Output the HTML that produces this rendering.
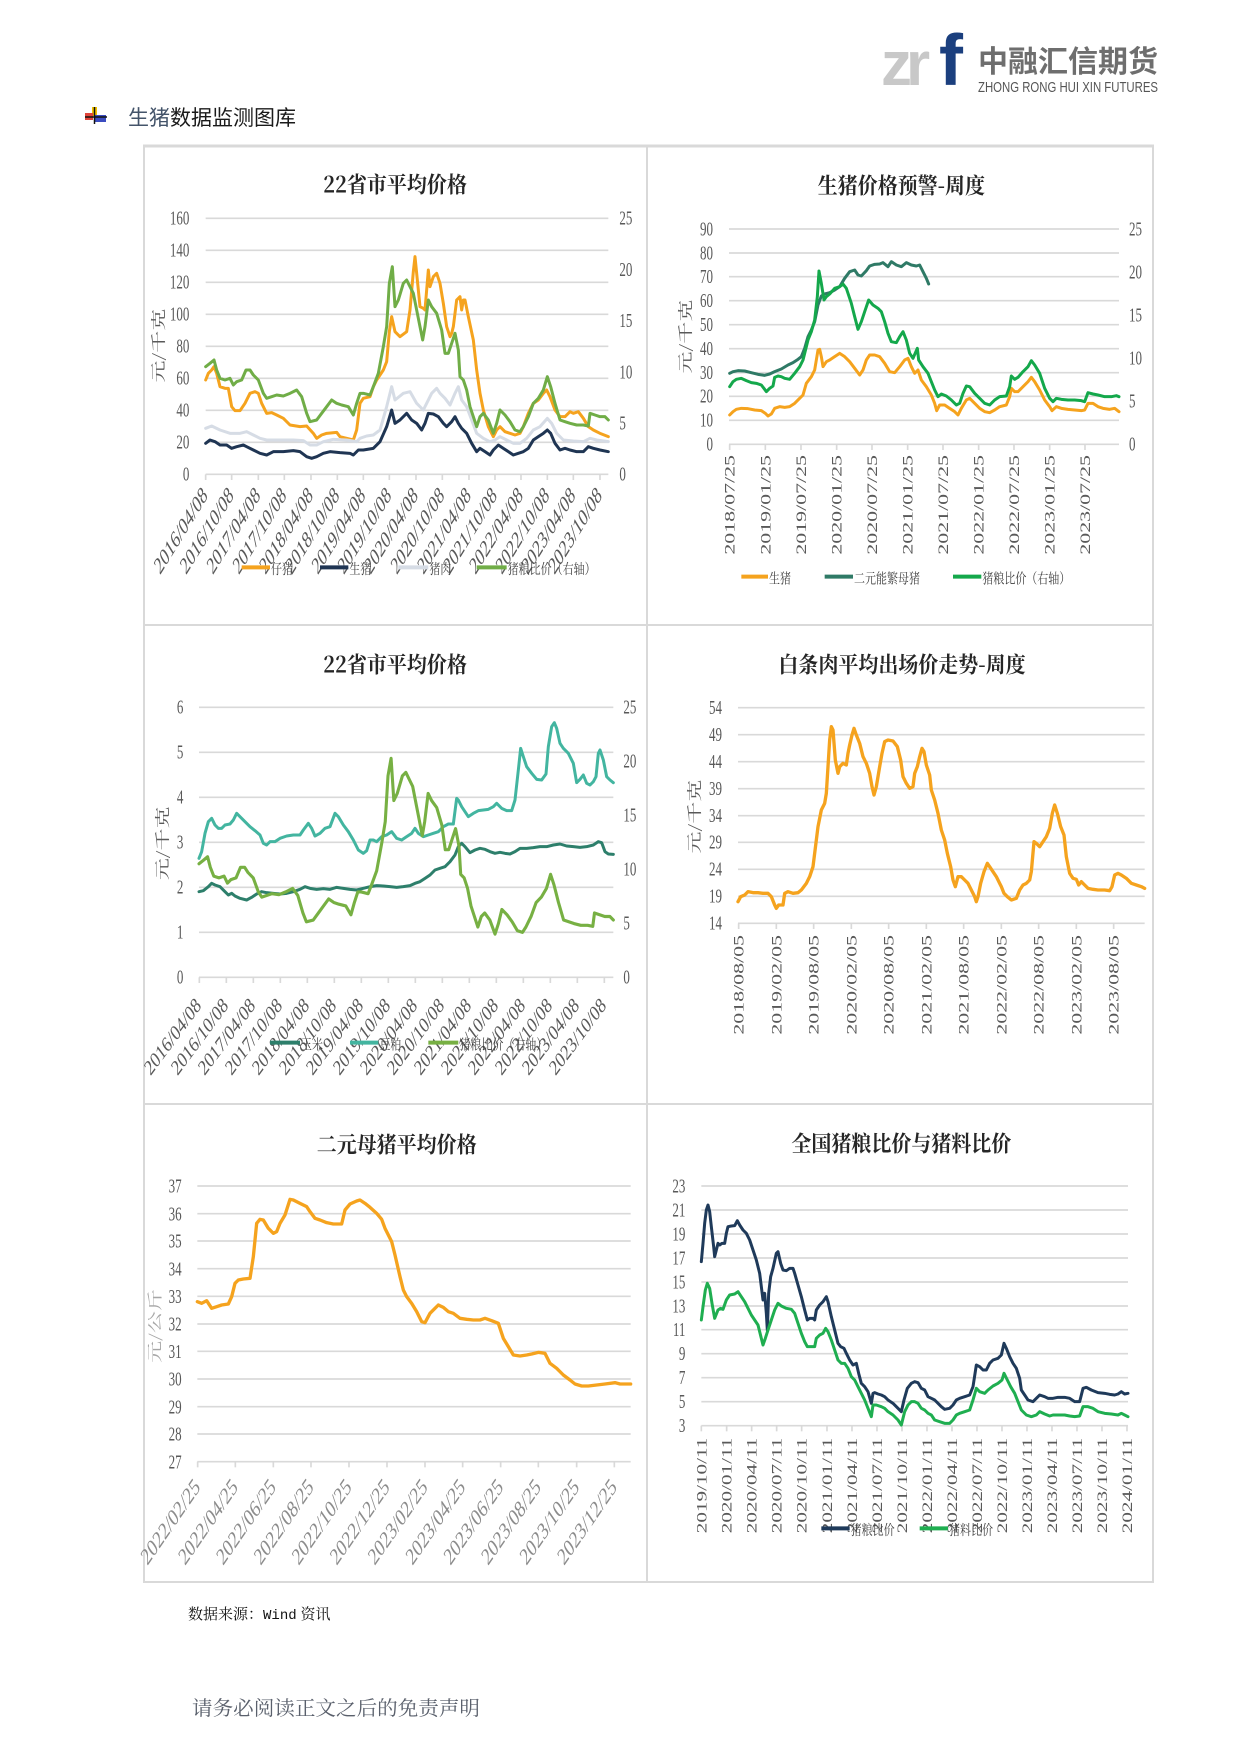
<!DOCTYPE html>
<html><head><meta charset="utf-8">
<style>
html,body{margin:0;padding:0;background:#fff;}
body{width:1241px;height:1755px;position:relative;overflow:hidden;}
svg{position:absolute;left:0;top:0;}
.t{font-family:"Liberation Serif","Noto Serif CJK SC",serif;fill:#595959;}
.ttl{font-family:"Noto Serif CJK SC","Liberation Serif",serif;font-weight:700;fill:#262626;font-size:60px;text-anchor:middle;}
.yl{font-size:39px;}
.e{text-anchor:end;}
.lg{font-family:"Noto Serif CJK SC","Liberation Serif",serif;font-size:33px;fill:#404040;}
.yt{font-family:"Noto Serif CJK SC","Liberation Serif",serif;font-size:44px;fill:#595959;text-anchor:middle;}
.grid line{stroke:#d9d9d9;stroke-width:5;}
.ser{fill:none;stroke-linejoin:round;stroke-linecap:round;}
</style></head>
<body>
<svg width="1241" height="1755" viewBox="0 0 1241 1755" xmlns="http://www.w3.org/2000/svg">
<!-- Logo -->
<text x="881" y="85" font-family="Liberation Sans,sans-serif" font-weight="700" font-size="62" fill="#c8c8c8" letter-spacing="-6">zr</text>
<text x="939" y="85" font-family="Liberation Sans,sans-serif" font-weight="700" font-size="72" fill="#1b3f7e">f</text>
<text x="978" y="72" font-family="Noto Sans CJK SC,sans-serif" font-weight="700" font-size="30" fill="#6e6e6e" textLength="180" lengthAdjust="spacingAndGlyphs">中融汇信期货</text>
<text x="978" y="92" font-family="Liberation Sans,sans-serif" font-size="15" fill="#555" textLength="180" lengthAdjust="spacingAndGlyphs">ZHONG RONG HUI XIN FUTURES</text>
<!-- section title -->
<rect x="92" y="107" width="5" height="9" fill="#f2c200"/>
<rect x="85" y="113" width="8" height="7" fill="#e0453a"/>
<rect x="95" y="115" width="11" height="7" fill="#3b4cc0"/>
<line x1="94.5" y1="107" x2="94.5" y2="124" stroke="#111" stroke-width="1.5"/>
<line x1="85" y1="117" x2="107" y2="117" stroke="#111" stroke-width="1.5"/>
<text x="128" y="125" font-family="Noto Sans CJK SC,sans-serif" font-size="21" fill="#1a1a1a"><tspan fill="#44546a">生猪</tspan>数据监测图库</text>
<!-- frame -->
<rect x="144" y="146" width="1009" height="1436" fill="none" stroke="#d9d9d9" stroke-width="2"/>
<line x1="143" y1="146" x2="1154" y2="146" stroke="#d9d9d9" stroke-width="3"/>
<line x1="647" y1="145" x2="647" y2="1583" stroke="#d9d9d9" stroke-width="2"/>
<line x1="143" y1="625" x2="1154" y2="625" stroke="#d9d9d9" stroke-width="2"/>
<line x1="143" y1="1104" x2="1154" y2="1104" stroke="#d9d9d9" stroke-width="2"/>

<!-- ================= Chart 1 ================= -->
<g transform="translate(140,140) scale(0.333333)">
<text class="ttl" transform="translate(765,158) scale(1,1.12)">22省市平均价格</text>
<g class="grid">
<line x1="197" y1="235" x2="1405" y2="235"/><line x1="197" y1="331" x2="1405" y2="331"/><line x1="197" y1="427" x2="1405" y2="427"/><line x1="197" y1="523" x2="1405" y2="523"/><line x1="197" y1="619" x2="1405" y2="619"/><line x1="197" y1="715" x2="1405" y2="715"/><line x1="197" y1="811" x2="1405" y2="811"/><line x1="197" y1="907" x2="1405" y2="907"/><line x1="197" y1="1003" x2="1405" y2="1003"/>
<line x1="197" y1="1003" x2="197" y2="1020"/><line x1="275" y1="1003" x2="275" y2="1020"/><line x1="355" y1="1003" x2="355" y2="1020"/><line x1="433" y1="1003" x2="433" y2="1020"/><line x1="513" y1="1003" x2="513" y2="1020"/><line x1="592" y1="1003" x2="592" y2="1020"/><line x1="670" y1="1003" x2="670" y2="1020"/><line x1="748" y1="1003" x2="748" y2="1020"/><line x1="828" y1="1003" x2="828" y2="1020"/><line x1="907" y1="1003" x2="907" y2="1020"/><line x1="987" y1="1003" x2="987" y2="1020"/><line x1="1065" y1="1003" x2="1065" y2="1020"/><line x1="1143" y1="1003" x2="1143" y2="1020"/><line x1="1222" y1="1003" x2="1222" y2="1020"/><line x1="1300" y1="1003" x2="1300" y2="1020"/><line x1="1380" y1="1003" x2="1380" y2="1020"/>
</g>
<g class="t yl e">
<text transform="translate(148,254) scale(1,1.5)">160</text><text transform="translate(148,350) scale(1,1.5)">140</text><text transform="translate(148,446) scale(1,1.5)">120</text><text transform="translate(148,542) scale(1,1.5)">100</text><text transform="translate(148,638) scale(1,1.5)">80</text><text transform="translate(148,734) scale(1,1.5)">60</text><text transform="translate(148,830) scale(1,1.5)">40</text><text transform="translate(148,926) scale(1,1.5)">20</text><text transform="translate(148,1022) scale(1,1.5)">0</text>
</g>
<g class="t yl">
<text transform="translate(1438,254) scale(1,1.5)">25</text><text transform="translate(1438,408) scale(1,1.5)">20</text><text transform="translate(1438,561) scale(1,1.5)">15</text><text transform="translate(1438,715) scale(1,1.5)">10</text><text transform="translate(1438,868) scale(1,1.5)">5</text><text transform="translate(1438,1022) scale(1,1.5)">0</text>
</g>
<text class="yt" transform="translate(70,617) scale(1,1.5) rotate(-90)">元/千克</text>
<g class="t e" font-size="45">
<text transform="translate(205,1070) scale(1,1.63) rotate(-45)">2016/04/08</text>
<text transform="translate(283,1070) scale(1,1.63) rotate(-45)">2016/10/08</text>
<text transform="translate(363,1070) scale(1,1.63) rotate(-45)">2017/04/08</text>
<text transform="translate(441,1070) scale(1,1.63) rotate(-45)">2017/10/08</text>
<text transform="translate(521,1070) scale(1,1.63) rotate(-45)">2018/04/08</text>
<text transform="translate(600,1070) scale(1,1.63) rotate(-45)">2018/10/08</text>
<text transform="translate(678,1070) scale(1,1.63) rotate(-45)">2019/04/08</text>
<text transform="translate(756,1070) scale(1,1.63) rotate(-45)">2019/10/08</text>
<text transform="translate(836,1070) scale(1,1.63) rotate(-45)">2020/04/08</text>
<text transform="translate(915,1070) scale(1,1.63) rotate(-45)">2020/10/08</text>
<text transform="translate(995,1070) scale(1,1.63) rotate(-45)">2021/04/08</text>
<text transform="translate(1073,1070) scale(1,1.63) rotate(-45)">2021/10/08</text>
<text transform="translate(1151,1070) scale(1,1.63) rotate(-45)">2022/04/08</text>
<text transform="translate(1230,1070) scale(1,1.63) rotate(-45)">2022/10/08</text>
<text transform="translate(1308,1070) scale(1,1.63) rotate(-45)">2023/04/08</text>
<text transform="translate(1388,1070) scale(1,1.63) rotate(-45)">2023/10/08</text>
</g>
<polyline class="ser" stroke="#f5a31e" stroke-width="9" points="197,720 205,700 215,690 222,680 230,700 240,740 255,745 265,745 275,800 285,812 300,812 315,790 330,760 345,755 355,760 365,790 380,820 395,818 410,825 430,835 450,855 480,860 500,858 520,880 530,895 545,885 560,880 590,877 600,890 620,895 640,900 650,870 660,790 670,775 690,770 700,740 710,720 730,690 740,665 748,575 755,530 765,575 780,590 800,575 810,510 820,395 825,350 832,420 840,500 850,505 855,510 865,390 870,440 880,410 890,400 900,430 910,490 920,560 930,590 935,580 940,560 950,480 960,470 965,510 970,480 975,480 985,530 1000,600 1010,690 1020,760 1030,810 1045,860 1060,890 1070,870 1080,860 1095,875 1110,880 1125,885 1140,880 1150,860 1165,820 1180,790 1195,780 1210,760 1220,750 1230,770 1245,810 1260,830 1275,830 1290,815 1300,820 1315,815 1330,835 1345,860 1360,870 1380,880 1405,890"/>
<polyline class="ser" stroke="#1f3553" stroke-width="9" points="197,910 210,900 225,905 240,915 260,915 275,925 290,920 310,915 320,920 340,930 360,940 380,945 400,935 430,935 460,932 480,935 500,950 515,955 530,950 550,940 570,935 600,938 630,940 640,945 655,930 670,930 700,925 720,905 740,860 755,810 765,850 780,840 800,820 815,840 830,850 845,870 855,850 865,820 880,822 895,830 910,850 920,860 935,845 945,830 955,850 965,865 980,880 995,910 1010,935 1020,925 1035,935 1050,945 1060,930 1075,915 1090,925 1105,935 1120,945 1135,940 1150,935 1165,925 1180,900 1195,890 1210,880 1222,870 1232,880 1245,910 1260,930 1275,925 1290,930 1310,935 1330,935 1345,920 1360,925 1380,930 1405,935"/>
<polyline class="ser" stroke="#d6dce5" stroke-width="9" points="197,865 215,858 240,870 270,880 300,880 320,875 340,885 360,895 380,900 420,900 460,900 490,902 510,915 530,915 550,905 580,898 620,900 650,905 660,895 680,888 700,885 720,870 740,800 755,740 765,780 790,760 810,755 830,790 850,810 860,790 875,760 890,745 900,760 915,775 930,795 945,760 955,740 965,780 980,800 995,840 1010,880 1030,895 1050,905 1065,900 1080,890 1100,900 1120,910 1140,910 1160,895 1180,870 1200,860 1222,835 1235,850 1250,880 1270,900 1300,903 1330,905 1350,895 1370,900 1405,905"/>
<polyline class="ser" stroke="#70ad47" stroke-width="9" points="197,680 210,670 222,660 230,690 240,715 255,720 270,715 280,735 290,725 305,720 318,690 330,690 340,705 355,720 370,760 380,775 395,770 410,765 430,768 450,760 470,750 485,770 500,820 510,845 530,840 545,820 560,800 575,780 590,790 605,795 625,800 640,825 650,790 660,760 670,760 690,765 700,740 715,700 730,620 740,560 748,430 757,380 765,500 775,480 790,430 800,420 810,440 820,460 830,510 840,560 848,600 855,560 865,480 875,500 890,520 905,570 915,640 925,640 935,610 945,580 955,630 960,710 970,720 980,750 990,800 1000,830 1010,860 1020,830 1030,820 1045,840 1060,880 1070,850 1080,810 1095,825 1110,845 1125,870 1140,875 1150,860 1165,830 1180,790 1195,775 1210,750 1222,710 1232,740 1245,790 1260,840 1275,845 1290,850 1310,855 1330,855 1345,858 1350,820 1365,825 1380,830 1395,830 1405,840"/>
<g class="lg">
<line x1="305" y1="1282" x2="390" y2="1282" stroke="#f5a31e" stroke-width="12"/><text transform="translate(393,1302) scale(1,1.3)">仔猪</text>
<line x1="540" y1="1282" x2="625" y2="1282" stroke="#1f3553" stroke-width="12"/><text transform="translate(628,1302) scale(1,1.3)">生猪</text>
<line x1="775" y1="1282" x2="865" y2="1282" stroke="#d6dce5" stroke-width="12"/><text transform="translate(868,1302) scale(1,1.3)">猪肉</text>
<line x1="1010" y1="1282" x2="1100" y2="1282" stroke="#70ad47" stroke-width="12"/><text transform="translate(1103,1302) scale(1,1.3)">猪粮比价（右轴）</text>
</g>
</g>

<!-- ================= Chart 2 ================= -->
<g transform="translate(648,140) scale(0.333333)">
<text class="ttl" transform="translate(760,160) scale(1,1.12)">生猪价格预警-周度</text>
<g class="grid">
<line x1="243" y1="267" x2="1413" y2="267"/><line x1="243" y1="339" x2="1413" y2="339"/><line x1="243" y1="410" x2="1413" y2="410"/><line x1="243" y1="482" x2="1413" y2="482"/><line x1="243" y1="554" x2="1413" y2="554"/><line x1="243" y1="626" x2="1413" y2="626"/><line x1="243" y1="698" x2="1413" y2="698"/><line x1="243" y1="769" x2="1413" y2="769"/><line x1="243" y1="841" x2="1413" y2="841"/><line x1="243" y1="913" x2="1413" y2="913"/>
<line x1="245" y1="913" x2="245" y2="930"/><line x1="352" y1="913" x2="352" y2="930"/><line x1="459" y1="913" x2="459" y2="930"/><line x1="566" y1="913" x2="566" y2="930"/><line x1="672" y1="913" x2="672" y2="930"/><line x1="779" y1="913" x2="779" y2="930"/><line x1="885" y1="913" x2="885" y2="930"/><line x1="992" y1="913" x2="992" y2="930"/><line x1="1098" y1="913" x2="1098" y2="930"/><line x1="1205" y1="913" x2="1205" y2="930"/><line x1="1311" y1="913" x2="1311" y2="930"/>
</g>
<g class="t yl e">
<text transform="translate(195,286) scale(1,1.5)">90</text><text transform="translate(195,358) scale(1,1.5)">80</text><text transform="translate(195,429) scale(1,1.5)">70</text><text transform="translate(195,501) scale(1,1.5)">60</text><text transform="translate(195,573) scale(1,1.5)">50</text><text transform="translate(195,645) scale(1,1.5)">40</text><text transform="translate(195,717) scale(1,1.5)">30</text><text transform="translate(195,788) scale(1,1.5)">20</text><text transform="translate(195,860) scale(1,1.5)">10</text><text transform="translate(195,932) scale(1,1.5)">0</text>
</g>
<g class="t yl">
<text transform="translate(1443,286) scale(1,1.5)">25</text><text transform="translate(1443,415) scale(1,1.5)">20</text><text transform="translate(1443,544) scale(1,1.5)">15</text><text transform="translate(1443,674) scale(1,1.5)">10</text><text transform="translate(1443,803) scale(1,1.5)">5</text><text transform="translate(1443,932) scale(1,1.5)">0</text>
</g>
<text class="yt" transform="translate(127,590) scale(1,1.5) rotate(-90)">元/千克</text>
<g class="t e" font-size="45">
<text transform="translate(260,945) scale(1,1.46) rotate(-90)">2018/07/25</text>
<text transform="translate(367,945) scale(1,1.46) rotate(-90)">2019/01/25</text>
<text transform="translate(474,945) scale(1,1.46) rotate(-90)">2019/07/25</text>
<text transform="translate(581,945) scale(1,1.46) rotate(-90)">2020/01/25</text>
<text transform="translate(687,945) scale(1,1.46) rotate(-90)">2020/07/25</text>
<text transform="translate(794,945) scale(1,1.46) rotate(-90)">2021/01/25</text>
<text transform="translate(900,945) scale(1,1.46) rotate(-90)">2021/07/25</text>
<text transform="translate(1007,945) scale(1,1.46) rotate(-90)">2022/01/25</text>
<text transform="translate(1113,945) scale(1,1.46) rotate(-90)">2022/07/25</text>
<text transform="translate(1220,945) scale(1,1.46) rotate(-90)">2023/01/25</text>
<text transform="translate(1326,945) scale(1,1.46) rotate(-90)">2023/07/25</text>
</g>
<polyline class="ser" stroke="#f5a31e" stroke-width="9" points="245,825 255,815 265,808 280,805 300,806 320,810 340,812 352,820 360,828 370,822 380,805 395,800 410,802 425,800 440,790 455,775 465,765 475,730 490,710 500,690 510,630 515,628 520,650 525,680 535,665 545,660 560,650 575,640 590,650 605,665 620,685 635,705 645,690 655,660 665,645 680,645 695,650 710,670 725,695 740,698 755,680 770,660 780,655 790,680 800,700 810,690 820,720 835,740 850,765 860,790 866,812 875,795 890,795 905,805 920,815 930,825 940,805 955,780 965,775 980,790 995,805 1010,815 1025,818 1040,810 1055,800 1075,795 1085,770 1090,745 1100,755 1110,755 1125,740 1140,725 1150,712 1160,725 1175,750 1190,780 1205,800 1212,812 1225,800 1240,805 1260,808 1280,810 1300,812 1310,810 1320,790 1335,790 1350,800 1365,805 1385,808 1400,805 1413,815"/>
<polyline class="ser" stroke="#2f7a66" stroke-width="9" points="245,700 255,695 270,692 290,693 310,698 330,703 350,706 365,702 380,695 400,687 420,675 435,668 450,658 460,650 470,625 480,590 490,570 500,545 510,495 520,468 530,462 545,458 560,450 575,440 590,415 605,395 620,390 630,405 640,408 655,392 665,378 680,373 695,372 705,368 720,380 730,365 745,375 760,380 775,368 790,375 805,378 815,375 825,395 835,415 842,432"/>
<polyline class="ser" stroke="#14a84b" stroke-width="9" points="245,740 255,725 265,718 280,715 295,722 310,728 325,730 340,735 350,748 355,755 365,745 375,738 380,712 390,708 400,710 410,715 425,718 440,700 455,680 465,660 470,640 480,600 490,575 500,540 508,470 513,393 520,430 528,480 535,470 545,462 560,445 575,440 585,432 595,445 610,490 620,530 630,568 640,545 650,515 662,480 675,495 690,505 700,515 710,545 720,580 730,605 745,608 755,590 765,575 775,600 785,640 795,655 808,625 812,660 825,680 840,700 850,725 860,750 870,770 880,762 895,768 910,780 925,795 935,790 945,760 955,738 965,740 980,760 995,775 1010,790 1025,795 1040,780 1055,770 1075,768 1085,740 1090,708 1100,718 1110,712 1125,695 1140,680 1150,662 1160,675 1175,700 1190,745 1205,775 1215,785 1225,775 1240,778 1260,780 1280,780 1300,782 1310,785 1320,758 1335,762 1350,765 1370,770 1390,770 1405,767 1413,770"/>
<g class="lg">
<line x1="280" y1="1310" x2="360" y2="1310" stroke="#f5a31e" stroke-width="12"/><text transform="translate(363,1330) scale(1,1.3)">生猪</text>
<line x1="530" y1="1310" x2="615" y2="1310" stroke="#2f7a66" stroke-width="12"/><text transform="translate(618,1330) scale(1,1.3)">二元能繁母猪</text>
<line x1="915" y1="1310" x2="1000" y2="1310" stroke="#14a84b" stroke-width="12"/><text transform="translate(1003,1330) scale(1,1.3)">猪粮比价（右轴）</text>
</g>
</g>

<!-- ================= Chart 3 ================= -->
<g transform="translate(140,620) scale(0.333333)">
<text class="ttl" transform="translate(765,158) scale(1,1.12)">22省市平均价格</text>
<g class="grid">
<line x1="177" y1="262" x2="1420" y2="262"/><line x1="177" y1="397" x2="1420" y2="397"/><line x1="177" y1="532" x2="1420" y2="532"/><line x1="177" y1="667" x2="1420" y2="667"/><line x1="177" y1="802" x2="1420" y2="802"/><line x1="177" y1="937" x2="1420" y2="937"/><line x1="177" y1="1072" x2="1420" y2="1072"/>
<line x1="178" y1="1072" x2="178" y2="1089"/><line x1="259" y1="1072" x2="259" y2="1089"/><line x1="340" y1="1072" x2="340" y2="1089"/><line x1="421" y1="1072" x2="421" y2="1089"/><line x1="502" y1="1072" x2="502" y2="1089"/><line x1="583" y1="1072" x2="583" y2="1089"/><line x1="664" y1="1072" x2="664" y2="1089"/><line x1="745" y1="1072" x2="745" y2="1089"/><line x1="826" y1="1072" x2="826" y2="1089"/><line x1="907" y1="1072" x2="907" y2="1089"/><line x1="988" y1="1072" x2="988" y2="1089"/><line x1="1069" y1="1072" x2="1069" y2="1089"/><line x1="1150" y1="1072" x2="1150" y2="1089"/><line x1="1231" y1="1072" x2="1231" y2="1089"/><line x1="1312" y1="1072" x2="1312" y2="1089"/><line x1="1393" y1="1072" x2="1393" y2="1089"/>
</g>
<g class="t yl e">
<text transform="translate(130,281) scale(1,1.5)">6</text><text transform="translate(130,416) scale(1,1.5)">5</text><text transform="translate(130,551) scale(1,1.5)">4</text><text transform="translate(130,686) scale(1,1.5)">3</text><text transform="translate(130,821) scale(1,1.5)">2</text><text transform="translate(130,956) scale(1,1.5)">1</text><text transform="translate(130,1091) scale(1,1.5)">0</text>
</g>
<g class="t yl">
<text transform="translate(1450,281) scale(1,1.5)">25</text><text transform="translate(1450,443) scale(1,1.5)">20</text><text transform="translate(1450,605) scale(1,1.5)">15</text><text transform="translate(1450,767) scale(1,1.5)">10</text><text transform="translate(1450,929) scale(1,1.5)">5</text><text transform="translate(1450,1091) scale(1,1.5)">0</text>
</g>
<text class="yt" transform="translate(82,670) scale(1,1.5) rotate(-90)">元/千克</text>
<g class="t e" font-size="48">
<text transform="translate(186,1160) scale(1,1.35) rotate(-45)">2016/04/08</text>
<text transform="translate(267,1160) scale(1,1.35) rotate(-45)">2016/10/08</text>
<text transform="translate(348,1160) scale(1,1.35) rotate(-45)">2017/04/08</text>
<text transform="translate(429,1160) scale(1,1.35) rotate(-45)">2017/10/08</text>
<text transform="translate(510,1160) scale(1,1.35) rotate(-45)">2018/04/08</text>
<text transform="translate(591,1160) scale(1,1.35) rotate(-45)">2018/10/08</text>
<text transform="translate(672,1160) scale(1,1.35) rotate(-45)">2019/04/08</text>
<text transform="translate(753,1160) scale(1,1.35) rotate(-45)">2019/10/08</text>
<text transform="translate(834,1160) scale(1,1.35) rotate(-45)">2020/04/08</text>
<text transform="translate(915,1160) scale(1,1.35) rotate(-45)">2020/10/08</text>
<text transform="translate(996,1160) scale(1,1.35) rotate(-45)">2021/04/08</text>
<text transform="translate(1077,1160) scale(1,1.35) rotate(-45)">2021/10/08</text>
<text transform="translate(1158,1160) scale(1,1.35) rotate(-45)">2022/04/08</text>
<text transform="translate(1239,1160) scale(1,1.35) rotate(-45)">2022/10/08</text>
<text transform="translate(1320,1160) scale(1,1.35) rotate(-45)">2023/04/08</text>
<text transform="translate(1401,1160) scale(1,1.35) rotate(-45)">2023/10/08</text>
</g>
<polyline class="ser" stroke="#2d7f6b" stroke-width="9" points="177,815 190,812 205,800 215,790 225,795 240,800 255,815 265,825 275,820 285,828 300,835 320,840 335,832 350,822 365,815 380,818 400,820 420,822 440,820 460,815 480,808 495,800 510,805 530,808 550,806 570,808 590,802 610,805 630,808 650,810 670,805 690,800 710,797 730,798 750,800 770,802 790,800 810,797 825,790 840,785 855,775 870,765 885,750 900,745 915,740 930,725 945,705 955,680 965,670 975,680 990,698 1005,690 1020,685 1035,688 1050,695 1065,700 1080,697 1095,700 1110,702 1125,695 1140,685 1160,685 1180,683 1200,680 1220,680 1240,675 1260,672 1280,678 1300,680 1320,682 1340,680 1360,675 1375,665 1385,668 1395,695 1405,702 1420,703"/>
<polyline class="ser" stroke="#43b5a0" stroke-width="9" points="177,715 185,695 195,640 205,605 215,595 225,615 235,625 245,625 255,615 270,612 280,600 290,580 300,590 315,605 330,620 345,632 360,645 370,670 380,675 390,665 405,665 420,655 440,648 460,645 480,645 490,630 505,610 515,625 525,648 540,640 555,625 570,620 585,580 595,590 610,615 625,635 640,660 655,690 670,700 680,692 690,660 700,660 710,665 725,650 740,645 755,635 770,655 785,660 800,650 815,640 825,625 835,640 850,650 865,645 880,640 895,635 910,620 925,612 940,612 950,535 955,540 965,560 975,575 985,590 1000,580 1015,572 1030,570 1045,568 1060,560 1070,550 1085,565 1100,572 1115,572 1125,540 1135,450 1142,385 1150,410 1160,440 1175,460 1190,478 1205,480 1218,462 1225,380 1235,320 1243,308 1250,325 1260,370 1270,385 1285,400 1300,430 1310,488 1320,478 1330,465 1340,490 1350,495 1360,485 1368,470 1375,400 1380,390 1390,420 1400,470 1410,480 1420,488"/>
<polyline class="ser" stroke="#77b043" stroke-width="9" transform="matrix(1.029 0 0 1.0547 -25.71 14.14)" points="197,680 210,670 222,660 230,690 240,715 255,720 270,715 280,735 290,725 305,720 318,690 330,690 340,705 355,720 370,760 380,775 395,770 410,765 430,768 450,760 470,750 485,770 500,820 510,845 530,840 545,820 560,800 575,780 590,790 605,795 625,800 640,825 650,790 660,760 670,760 690,765 700,740 715,700 730,620 740,560 748,430 757,380 765,500 775,480 790,430 800,420 810,440 820,460 830,510 840,560 848,600 855,560 865,480 875,500 890,520 905,570 915,640 925,640 935,610 945,580 955,630 960,710 970,720 980,750 990,800 1000,830 1010,860 1020,830 1030,820 1045,840 1060,880 1070,850 1080,810 1095,825 1110,845 1125,870 1140,875 1150,860 1165,830 1180,790 1195,775 1210,750 1222,710 1232,740 1245,790 1260,840 1275,845 1290,850 1310,855 1330,855 1345,858 1350,820 1365,825 1380,830 1395,830 1405,840"/>
<g class="lg">
<line x1="390" y1="1268" x2="480" y2="1268" stroke="#2d7f6b" stroke-width="12"/><text transform="translate(483,1288) scale(1,1.3)">玉米</text>
<line x1="630" y1="1268" x2="715" y2="1268" stroke="#43b5a0" stroke-width="12"/><text transform="translate(718,1288) scale(1,1.3)">豆粕</text>
<line x1="865" y1="1268" x2="955" y2="1268" stroke="#77b043" stroke-width="12"/><text transform="translate(958,1288) scale(1,1.3)">猪粮比价（右轴）</text>
</g>
</g>

<!-- ================= Chart 4 ================= -->
<g transform="translate(648,620) scale(0.333333)">
<text class="ttl" transform="translate(762,158) scale(1,1.12)" font-size="62">白条肉平均出场价走势-周度</text>
<g class="grid">
<line x1="270" y1="263" x2="1490" y2="263"/><line x1="270" y1="344" x2="1490" y2="344"/><line x1="270" y1="425" x2="1490" y2="425"/><line x1="270" y1="506" x2="1490" y2="506"/><line x1="270" y1="587" x2="1490" y2="587"/><line x1="270" y1="667" x2="1490" y2="667"/><line x1="270" y1="748" x2="1490" y2="748"/><line x1="270" y1="829" x2="1490" y2="829"/><line x1="270" y1="910" x2="1490" y2="910"/>
<line x1="272" y1="910" x2="272" y2="927"/><line x1="385" y1="910" x2="385" y2="927"/><line x1="497" y1="910" x2="497" y2="927"/><line x1="610" y1="910" x2="610" y2="927"/><line x1="722" y1="910" x2="722" y2="927"/><line x1="835" y1="910" x2="835" y2="927"/><line x1="947" y1="910" x2="947" y2="927"/><line x1="1060" y1="910" x2="1060" y2="927"/><line x1="1172" y1="910" x2="1172" y2="927"/><line x1="1285" y1="910" x2="1285" y2="927"/><line x1="1397" y1="910" x2="1397" y2="927"/>
</g>
<g class="t yl e">
<text transform="translate(222,282) scale(1,1.5)">54</text><text transform="translate(222,363) scale(1,1.5)">49</text><text transform="translate(222,444) scale(1,1.5)">44</text><text transform="translate(222,525) scale(1,1.5)">39</text><text transform="translate(222,606) scale(1,1.5)">34</text><text transform="translate(222,686) scale(1,1.5)">29</text><text transform="translate(222,767) scale(1,1.5)">24</text><text transform="translate(222,848) scale(1,1.5)">19</text><text transform="translate(222,929) scale(1,1.5)">14</text>
</g>
<text class="yt" transform="translate(155,590) scale(1,1.5) rotate(-90)">元/千克</text>
<g class="t e" font-size="45">
<text transform="translate(287,945) scale(1,1.46) rotate(-90)">2018/08/05</text>
<text transform="translate(400,945) scale(1,1.46) rotate(-90)">2019/02/05</text>
<text transform="translate(512,945) scale(1,1.46) rotate(-90)">2019/08/05</text>
<text transform="translate(625,945) scale(1,1.46) rotate(-90)">2020/02/05</text>
<text transform="translate(737,945) scale(1,1.46) rotate(-90)">2020/08/05</text>
<text transform="translate(850,945) scale(1,1.46) rotate(-90)">2021/02/05</text>
<text transform="translate(962,945) scale(1,1.46) rotate(-90)">2021/08/05</text>
<text transform="translate(1075,945) scale(1,1.46) rotate(-90)">2022/02/05</text>
<text transform="translate(1187,945) scale(1,1.46) rotate(-90)">2022/08/05</text>
<text transform="translate(1300,945) scale(1,1.46) rotate(-90)">2023/02/05</text>
<text transform="translate(1412,945) scale(1,1.46) rotate(-90)">2023/08/05</text>
</g>
<polyline class="ser" stroke="#f5a31e" stroke-width="10" points="270,845 278,830 290,825 300,815 315,818 330,818 345,820 360,820 370,830 380,855 385,865 392,855 405,855 410,820 420,815 435,820 450,818 460,810 475,790 485,770 495,740 500,700 510,620 520,570 530,550 535,520 540,440 545,360 550,320 555,330 562,420 570,460 575,440 585,430 595,435 600,400 605,375 612,345 618,325 625,345 635,370 645,410 655,430 665,460 672,500 678,525 685,500 695,440 702,400 710,365 720,360 735,363 748,380 758,420 765,470 775,490 785,505 795,500 800,460 808,440 815,410 822,385 828,395 835,435 845,465 850,510 860,540 870,580 880,630 890,660 898,700 908,740 915,780 922,800 930,770 940,770 950,780 960,790 970,810 980,830 985,845 990,830 998,790 1008,755 1018,730 1025,740 1035,755 1045,770 1055,790 1060,800 1068,820 1078,830 1090,840 1105,835 1115,810 1125,795 1135,790 1145,780 1150,755 1158,665 1165,670 1175,680 1185,665 1195,650 1205,625 1213,580 1220,555 1228,580 1238,620 1248,645 1255,710 1265,760 1275,775 1285,778 1292,795 1300,785 1310,795 1320,805 1335,808 1350,810 1370,810 1385,812 1392,800 1400,765 1410,760 1420,765 1435,775 1450,790 1465,795 1480,800 1490,805"/>
</g>

<!-- ================= Chart 5 ================= -->
<g transform="translate(140,1100) scale(0.333333)">
<text class="ttl" transform="translate(770,158) scale(1,1.12)">二元母猪平均价格</text>
<g class="grid">
<line x1="172" y1="258" x2="1472" y2="258"/><line x1="172" y1="341" x2="1472" y2="341"/><line x1="172" y1="423" x2="1472" y2="423"/><line x1="172" y1="506" x2="1472" y2="506"/><line x1="172" y1="589" x2="1472" y2="589"/><line x1="172" y1="672" x2="1472" y2="672"/><line x1="172" y1="754" x2="1472" y2="754"/><line x1="172" y1="837" x2="1472" y2="837"/><line x1="172" y1="920" x2="1472" y2="920"/><line x1="172" y1="1002" x2="1472" y2="1002"/><line x1="172" y1="1085" x2="1472" y2="1085"/>
<line x1="173" y1="1085" x2="173" y2="1102"/><line x1="286" y1="1085" x2="286" y2="1102"/><line x1="400" y1="1085" x2="400" y2="1102"/><line x1="513" y1="1085" x2="513" y2="1102"/><line x1="627" y1="1085" x2="627" y2="1102"/><line x1="741" y1="1085" x2="741" y2="1102"/><line x1="855" y1="1085" x2="855" y2="1102"/><line x1="968" y1="1085" x2="968" y2="1102"/><line x1="1082" y1="1085" x2="1082" y2="1102"/><line x1="1195" y1="1085" x2="1195" y2="1102"/><line x1="1310" y1="1085" x2="1310" y2="1102"/><line x1="1423" y1="1085" x2="1423" y2="1102"/>
</g>
<g class="t yl e" font-size="41">
<text transform="translate(125,278) scale(1,1.55)">37</text><text transform="translate(125,361) scale(1,1.55)">36</text><text transform="translate(125,443) scale(1,1.55)">35</text><text transform="translate(125,526) scale(1,1.55)">34</text><text transform="translate(125,609) scale(1,1.55)">33</text><text transform="translate(125,692) scale(1,1.55)">32</text><text transform="translate(125,774) scale(1,1.55)">31</text><text transform="translate(125,857) scale(1,1.55)">30</text><text transform="translate(125,940) scale(1,1.55)">29</text><text transform="translate(125,1022) scale(1,1.55)">28</text><text transform="translate(125,1105) scale(1,1.55)">27</text>
</g>
<text class="yt" transform="translate(60,678) scale(1,1.5) rotate(-90)" style="fill:#a6a6a6">元/公斤</text>
<g class="t e" font-size="50" style="fill:#8c8c8c">
<text transform="translate(183,1165) scale(1,1.45) rotate(-45)">2022/02/25</text>
<text transform="translate(296,1165) scale(1,1.45) rotate(-45)">2022/04/25</text>
<text transform="translate(410,1165) scale(1,1.45) rotate(-45)">2022/06/25</text>
<text transform="translate(523,1165) scale(1,1.45) rotate(-45)">2022/08/25</text>
<text transform="translate(637,1165) scale(1,1.45) rotate(-45)">2022/10/25</text>
<text transform="translate(751,1165) scale(1,1.45) rotate(-45)">2022/12/25</text>
<text transform="translate(865,1165) scale(1,1.45) rotate(-45)">2023/02/25</text>
<text transform="translate(978,1165) scale(1,1.45) rotate(-45)">2023/04/25</text>
<text transform="translate(1092,1165) scale(1,1.45) rotate(-45)">2023/06/25</text>
<text transform="translate(1205,1165) scale(1,1.45) rotate(-45)">2023/08/25</text>
<text transform="translate(1320,1165) scale(1,1.45) rotate(-45)">2023/10/25</text>
<text transform="translate(1433,1165) scale(1,1.45) rotate(-45)">2023/12/25</text>
</g>
<polyline class="ser" stroke="#f5a31e" stroke-width="10" points="172,605 185,610 200,602 215,625 230,620 245,615 265,612 275,590 285,550 295,540 310,537 330,535 340,470 350,370 360,358 370,360 385,385 400,400 410,395 420,370 435,345 450,298 460,300 480,310 500,320 510,335 525,355 540,360 560,368 580,372 605,372 615,330 630,312 650,303 660,300 675,310 690,322 710,340 725,358 735,385 755,425 765,465 780,530 790,570 800,590 815,610 830,635 845,665 855,668 870,640 885,625 895,615 910,622 925,635 940,640 960,655 980,658 1000,660 1020,660 1035,655 1055,662 1075,670 1090,715 1105,740 1120,765 1140,768 1160,765 1175,762 1195,757 1215,760 1230,790 1250,805 1270,825 1290,840 1305,852 1325,858 1345,858 1370,855 1395,852 1425,848 1440,852 1472,852"/>
</g>

<!-- ================= Chart 6 ================= -->
<g transform="translate(648,1100) scale(0.333333)">
<text class="ttl" transform="translate(760,155) scale(1,1.12)">全国猪粮比价与猪料比价</text>
<g class="grid">
<line x1="160" y1="258" x2="1440" y2="258"/><line x1="160" y1="330" x2="1440" y2="330"/><line x1="160" y1="402" x2="1440" y2="402"/><line x1="160" y1="474" x2="1440" y2="474"/><line x1="160" y1="546" x2="1440" y2="546"/><line x1="160" y1="618" x2="1440" y2="618"/><line x1="160" y1="689" x2="1440" y2="689"/><line x1="160" y1="761" x2="1440" y2="761"/><line x1="160" y1="833" x2="1440" y2="833"/><line x1="160" y1="905" x2="1440" y2="905"/><line x1="160" y1="977" x2="1440" y2="977"/>
<line x1="160" y1="977" x2="160" y2="994"/><line x1="236" y1="977" x2="236" y2="994"/><line x1="311" y1="977" x2="311" y2="994"/><line x1="386" y1="977" x2="386" y2="994"/><line x1="461" y1="977" x2="461" y2="994"/><line x1="537" y1="977" x2="537" y2="994"/><line x1="612" y1="977" x2="612" y2="994"/><line x1="687" y1="977" x2="687" y2="994"/><line x1="762" y1="977" x2="762" y2="994"/><line x1="837" y1="977" x2="837" y2="994"/><line x1="912" y1="977" x2="912" y2="994"/><line x1="987" y1="977" x2="987" y2="994"/><line x1="1062" y1="977" x2="1062" y2="994"/><line x1="1137" y1="977" x2="1137" y2="994"/><line x1="1212" y1="977" x2="1212" y2="994"/><line x1="1287" y1="977" x2="1287" y2="994"/><line x1="1362" y1="977" x2="1362" y2="994"/><line x1="1437" y1="977" x2="1437" y2="994"/>
</g>
<g class="t yl e">
<text transform="translate(112,277) scale(1,1.5)">23</text><text transform="translate(112,349) scale(1,1.5)">21</text><text transform="translate(112,421) scale(1,1.5)">19</text><text transform="translate(112,493) scale(1,1.5)">17</text><text transform="translate(112,565) scale(1,1.5)">15</text><text transform="translate(112,637) scale(1,1.5)">13</text><text transform="translate(112,708) scale(1,1.5)">11</text><text transform="translate(112,780) scale(1,1.5)">9</text><text transform="translate(112,852) scale(1,1.5)">7</text><text transform="translate(112,924) scale(1,1.5)">5</text><text transform="translate(112,996) scale(1,1.5)">3</text>
</g>
<g class="t e" font-size="45">
<text transform="translate(175,1013) scale(1,1.41) rotate(-90)">2019/10/11</text>
<text transform="translate(251,1013) scale(1,1.41) rotate(-90)">2020/01/11</text>
<text transform="translate(326,1013) scale(1,1.41) rotate(-90)">2020/04/11</text>
<text transform="translate(401,1013) scale(1,1.41) rotate(-90)">2020/07/11</text>
<text transform="translate(476,1013) scale(1,1.41) rotate(-90)">2020/10/11</text>
<text transform="translate(552,1013) scale(1,1.41) rotate(-90)">2021/01/11</text>
<text transform="translate(627,1013) scale(1,1.41) rotate(-90)">2021/04/11</text>
<text transform="translate(702,1013) scale(1,1.41) rotate(-90)">2021/07/11</text>
<text transform="translate(777,1013) scale(1,1.41) rotate(-90)">2021/10/11</text>
<text transform="translate(852,1013) scale(1,1.41) rotate(-90)">2022/01/11</text>
<text transform="translate(927,1013) scale(1,1.41) rotate(-90)">2022/04/11</text>
<text transform="translate(1002,1013) scale(1,1.41) rotate(-90)">2022/07/11</text>
<text transform="translate(1077,1013) scale(1,1.41) rotate(-90)">2022/10/11</text>
<text transform="translate(1152,1013) scale(1,1.41) rotate(-90)">2023/01/11</text>
<text transform="translate(1227,1013) scale(1,1.41) rotate(-90)">2023/04/11</text>
<text transform="translate(1302,1013) scale(1,1.41) rotate(-90)">2023/07/11</text>
<text transform="translate(1377,1013) scale(1,1.41) rotate(-90)">2023/10/11</text>
<text transform="translate(1452,1013) scale(1,1.41) rotate(-90)">2024/01/11</text>
</g>
<polyline class="ser" stroke="#1f3a5a" stroke-width="9" points="160,485 165,430 170,370 175,330 180,315 185,335 190,380 197,440 200,470 205,450 210,430 215,435 222,430 230,430 235,400 240,380 250,378 260,377 268,362 275,375 285,390 295,400 305,420 315,450 325,480 335,520 340,560 345,600 350,580 355,640 358,690 362,580 368,530 375,505 385,460 390,455 398,490 405,510 415,512 425,505 435,505 440,520 450,555 460,590 470,630 478,660 485,655 495,655 500,660 505,630 515,615 525,605 535,590 540,605 550,650 560,690 570,730 578,740 588,745 595,760 605,780 615,795 625,790 632,820 640,850 650,860 660,875 670,910 675,880 680,878 690,882 700,885 710,890 720,900 735,910 750,925 760,935 768,900 778,865 790,850 800,845 810,848 820,865 830,870 840,890 850,895 860,900 870,910 880,920 890,928 905,925 915,915 925,900 935,895 950,890 965,885 975,860 985,795 995,800 1005,810 1015,810 1025,790 1035,780 1050,775 1060,765 1068,730 1075,745 1085,770 1095,790 1105,805 1115,835 1120,870 1130,885 1140,900 1155,905 1165,895 1175,885 1190,890 1200,895 1215,895 1230,892 1250,892 1265,895 1280,905 1295,905 1305,865 1315,862 1330,870 1350,878 1370,880 1385,883 1400,885 1410,882 1420,875 1430,882 1440,880"/>
<polyline class="ser" stroke="#1fae50" stroke-width="9" points="160,660 165,620 172,570 178,550 185,565 192,610 200,655 210,630 218,625 225,628 235,600 245,585 260,582 270,575 280,590 290,605 300,625 310,645 320,660 330,675 340,715 345,735 352,715 360,690 370,660 380,630 390,610 400,618 415,625 430,628 440,640 450,670 460,700 470,725 478,740 490,740 500,740 505,715 515,705 525,700 533,685 540,695 550,720 560,750 570,780 580,790 590,790 600,805 610,830 620,840 630,860 640,880 650,900 660,925 670,950 675,915 685,915 700,920 710,925 720,935 735,945 750,960 760,975 770,935 780,915 790,905 800,905 810,910 820,925 830,930 840,940 850,945 860,960 875,965 890,970 905,970 915,960 925,945 935,940 950,935 965,930 975,900 985,865 995,875 1010,880 1020,870 1035,858 1050,850 1062,840 1068,820 1078,840 1088,860 1100,880 1110,905 1120,930 1135,945 1150,950 1165,945 1175,935 1190,942 1205,948 1215,945 1230,945 1250,945 1265,948 1280,950 1295,948 1305,920 1320,920 1335,925 1350,935 1370,940 1390,942 1410,945 1420,940 1430,945 1440,950"/>
<g class="lg">
<line x1="520" y1="1285" x2="605" y2="1285" stroke="#1f3a5a" stroke-width="12"/><text transform="translate(608,1305) scale(1,1.3)">猪粮比价</text>
<line x1="815" y1="1285" x2="900" y2="1285" stroke="#1fae50" stroke-width="12"/><text transform="translate(903,1305) scale(1,1.3)">猪料比价</text>
</g>
</g>

<!-- footer -->
<text x="188" y="1619" font-family="Noto Serif CJK SC,Liberation Serif,serif" font-size="15" fill="#111">数据来源：<tspan font-family="Liberation Mono,monospace" font-size="14">Wind</tspan> 资讯</text>
<text x="192" y="1715" font-family="Noto Serif CJK SC,Liberation Serif,serif" font-size="20" fill="#5a606c" textLength="288" lengthAdjust="spacingAndGlyphs">请务必阅读正文之后的免责声明</text>
</svg>
</body></html>
